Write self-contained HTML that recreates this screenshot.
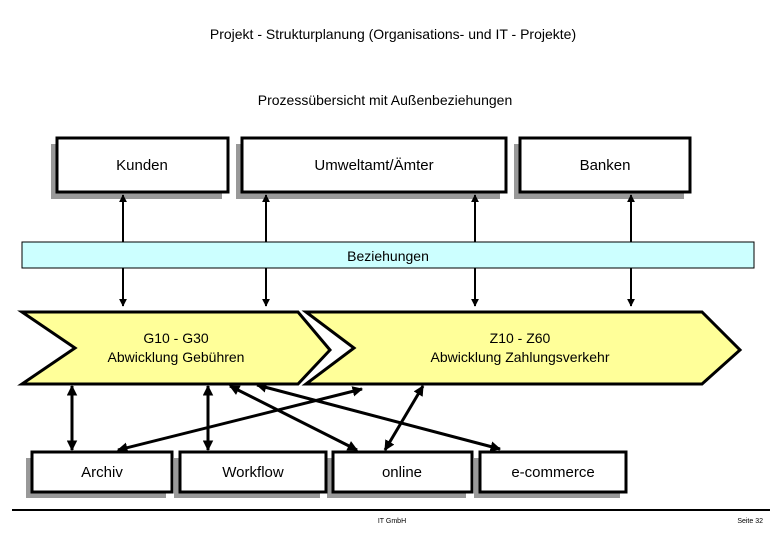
<!DOCTYPE html>
<html><head><meta charset="utf-8"><style>
body{margin:0;background:#fff;}
svg text{font-family:"Liberation Sans",sans-serif;}
</style></head><body>
<svg width="780" height="540" viewBox="0 0 780 540" xmlns="http://www.w3.org/2000/svg">
<defs>
<marker id="a" viewBox="0 0 10 10" refX="9" refY="5" markerWidth="4" markerHeight="4" orient="auto-start-reverse"><path d="M0,0L10,5L0,10z" fill="#000"/></marker>
<marker id="b" viewBox="0 0 10 10" refX="9" refY="5" markerWidth="3.5" markerHeight="3.5" orient="auto-start-reverse"><path d="M0,0L10,5L0,10z" fill="#000"/></marker>
</defs>
<text x="393" y="39" font-size="14" text-anchor="middle">Projekt - Strukturplanung (Organisations- und IT - Projekte)</text>
<text x="385" y="105" font-size="14" text-anchor="middle">Prozessübersicht mit Außenbeziehungen</text>
<g fill="#999">
<rect x="51" y="144" width="171" height="55"/><rect x="236" y="144" width="264" height="55"/><rect x="514" y="144" width="170" height="55"/>
<rect x="26" y="458" width="140" height="40"/><rect x="174" y="458" width="146" height="40"/><rect x="327" y="458" width="139" height="40"/><rect x="474" y="458" width="146" height="40"/>
</g>
<g fill="#fff" stroke="#000" stroke-width="3">
<rect x="57" y="138" width="171" height="54"/><rect x="242" y="138" width="264" height="54"/><rect x="520" y="138" width="170" height="54"/>
<rect x="32" y="452" width="140" height="40"/><rect x="180" y="452" width="146" height="40"/><rect x="333" y="452" width="139" height="40"/><rect x="480" y="452" width="146" height="40"/>
</g>
<g font-size="15" text-anchor="middle">
<text x="142" y="170">Kunden</text><text x="374" y="170">Umweltamt/Ämter</text><text x="605" y="170">Banken</text>
<text x="102" y="477">Archiv</text><text x="253" y="477">Workflow</text><text x="402" y="477">online</text><text x="553" y="477">e-commerce</text>
</g>
<rect x="22" y="242" width="732" height="26" fill="#ccffff" stroke="#000" stroke-width="1"/>
<text x="388" y="261" font-size="14" text-anchor="middle">Beziehungen</text>
<g stroke="#000" stroke-width="2">
<line x1="123" y1="195" x2="123" y2="242" marker-start="url(#a)"/>
<line x1="266" y1="195" x2="266" y2="242" marker-start="url(#a)"/>
<line x1="475" y1="195" x2="475" y2="242" marker-start="url(#a)"/>
<line x1="631" y1="195" x2="631" y2="242" marker-start="url(#a)"/>
<line x1="123" y1="268" x2="123" y2="306" marker-end="url(#a)"/>
<line x1="266" y1="268" x2="266" y2="306" marker-end="url(#a)"/>
<line x1="475" y1="268" x2="475" y2="306" marker-end="url(#a)"/>
<line x1="631" y1="268" x2="631" y2="306" marker-end="url(#a)"/>
</g>
<polygon points="22,312 298,312 330,350 298,384 22,384 75,348" fill="#ffff99" stroke="#000" stroke-width="3"/>
<polygon points="308,312 702,312 740,350 702,384 308,384 340,350 356,348 340,346" fill="none" stroke="none"/>
<polygon points="306,312 702,312 740,350 702,384 306,384 354,348" fill="#ffff99" stroke="#000" stroke-width="3"/>
<text x="176" y="343" font-size="14" text-anchor="middle">G10 - G30</text>
<text x="176" y="362" font-size="14" text-anchor="middle">Abwicklung Gebühren</text>
<text x="520" y="343" font-size="14" text-anchor="middle">Z10 - Z60</text>
<text x="520" y="362" font-size="14" text-anchor="middle">Abwicklung Zahlungsverkehr</text>
<g stroke="#000" stroke-width="3" marker-start="url(#b)" marker-end="url(#b)">
<line x1="72" y1="386" x2="72" y2="450"/>
<line x1="208" y1="386" x2="208" y2="450"/>
<line x1="230" y1="386" x2="357" y2="450"/>
<line x1="257" y1="385" x2="500" y2="449"/>
<line x1="362" y1="389" x2="118" y2="450"/>
<line x1="423" y1="386" x2="385" y2="450"/>
</g>
<line x1="12" y1="510" x2="770" y2="510" stroke="#000" stroke-width="2"/>
<text x="392" y="523" font-size="7" text-anchor="middle">IT GmbH</text>
<text x="763" y="523" font-size="7" text-anchor="end">Seite 32</text>
</svg>
</body></html>
